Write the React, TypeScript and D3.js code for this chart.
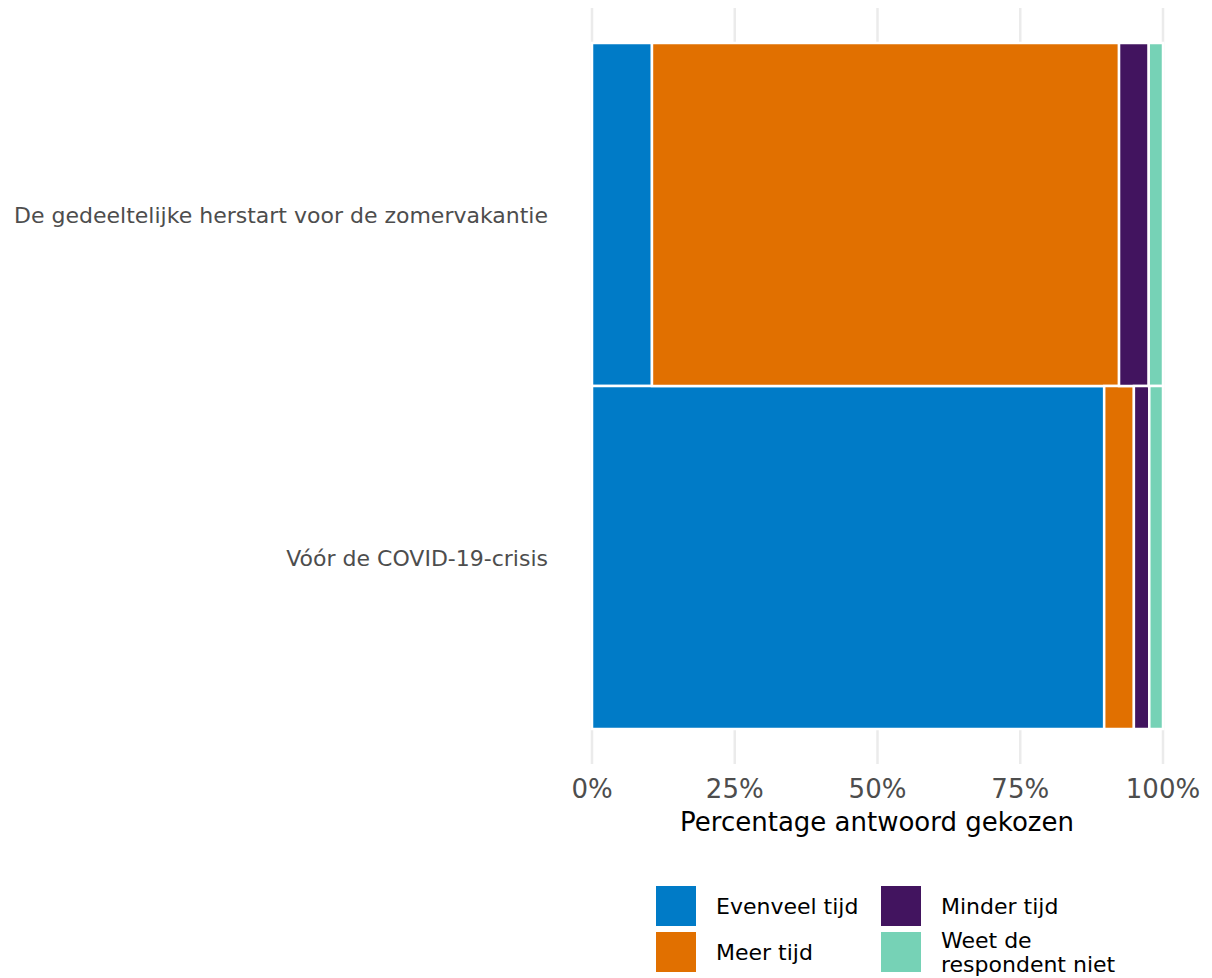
import React from "react";
import * as d3 from "d3";

const categories = ["De gedeeltelijke herstart voor de zomervakantie", "Vóór de COVID-19-crisis"];
const seriesNames = ["Evenveel tijd", "Meer tijd", "Minder tijd", "Weet de respondent niet"];
const evenveel = [10.5, 89.7];
const meer = [81.8, 5.2];
const minder = [5.2, 2.7];
const weetNiet = [2.5, 2.4];
const tickValues = [0, 25, 50, 75, 100];
const colors = ["#007bc7", "#e17000", "#42145f", "#76d2b6"];

const W = 1212;
const H = 978;
const FONT = "Verdana, 'DejaVu Sans', sans-serif";

export default function App() {
  const x = d3.scaleLinear().domain([0, 100]).range([592, 1163]);
  const y = d3.scaleBand().domain(categories).range([43, 729]).padding(0);
  const series = [evenveel, meer, minder, weetNiet];
  const stackData = categories.map((c, i) => {
    const row: any = { cat: c };
    seriesNames.forEach((s, j) => (row[s] = series[j][i]));
    return row;
  });
  const stacked = d3.stack<any>().keys(seriesNames)(stackData);

  const legendItems = [
    { name: "Evenveel tijd", color: colors[0], x: 656, y: 886, lines: ["Evenveel tijd"] },
    { name: "Meer tijd", color: colors[1], x: 656, y: 932, lines: ["Meer tijd"] },
    { name: "Minder tijd", color: colors[2], x: 881, y: 886, lines: ["Minder tijd"] },
    { name: "Weet de respondent niet", color: colors[3], x: 881, y: 932, lines: ["Weet de", "respondent niet"] },
  ];

  return (
    <svg width={W} height={H} style={{ position: "absolute", left: 0, top: 0, fontFamily: FONT }}>
      <rect width={W} height={H} fill="#fff" />
      {tickValues.map((t) => (
        <line key={t} x1={x(t)} x2={x(t)} y1={8} y2={764} stroke="#ebebeb" strokeWidth={2.5} />
      ))}
      {stacked.map((s, j) => (
        <g key={s.key}>
          {s.map((d: any, i: number) => (
            <rect
              key={i}
              x={x(d[0])}
              width={x(d[1]) - x(d[0])}
              y={y(d.data.cat)!}
              height={y.bandwidth()}
              fill={colors[j]}
              stroke="#fff"
              strokeWidth={2.5}
            />
          ))}
        </g>
      ))}
      {categories.map((c) => (
        <text
          key={c}
          x={548}
          y={y(c)! + y.bandwidth() / 2 + 8}
          textAnchor="end"
          fontSize={22}
          fill="#4d4d4d"
        >
          {c}
        </text>
      ))}
      {tickValues.map((t) => (
        <text key={t} x={x(t)} y={798} textAnchor="middle" fontSize={26} fill="#4d4d4d">
          {t + "%"}
        </text>
      ))}
      <text x={877} y={831} textAnchor="middle" fontSize={26} fill="#000">
        Percentage antwoord gekozen
      </text>
      {legendItems.map((l) => (
        <g key={l.name}>
          <rect x={l.x} y={l.y} width={40} height={40} fill={l.color} />
          {l.lines.length === 1 ? (
            <text x={l.x + 60} y={l.y + 28} fontSize={22} fill="#000">
              {l.lines[0]}
            </text>
          ) : (
            l.lines.map((ln, k) => (
              <text key={k} x={l.x + 60} y={l.y + 16 + k * 24} fontSize={22} fill="#000">
                {ln}
              </text>
            ))
          )}
        </g>
      ))}
    </svg>
  );
}
